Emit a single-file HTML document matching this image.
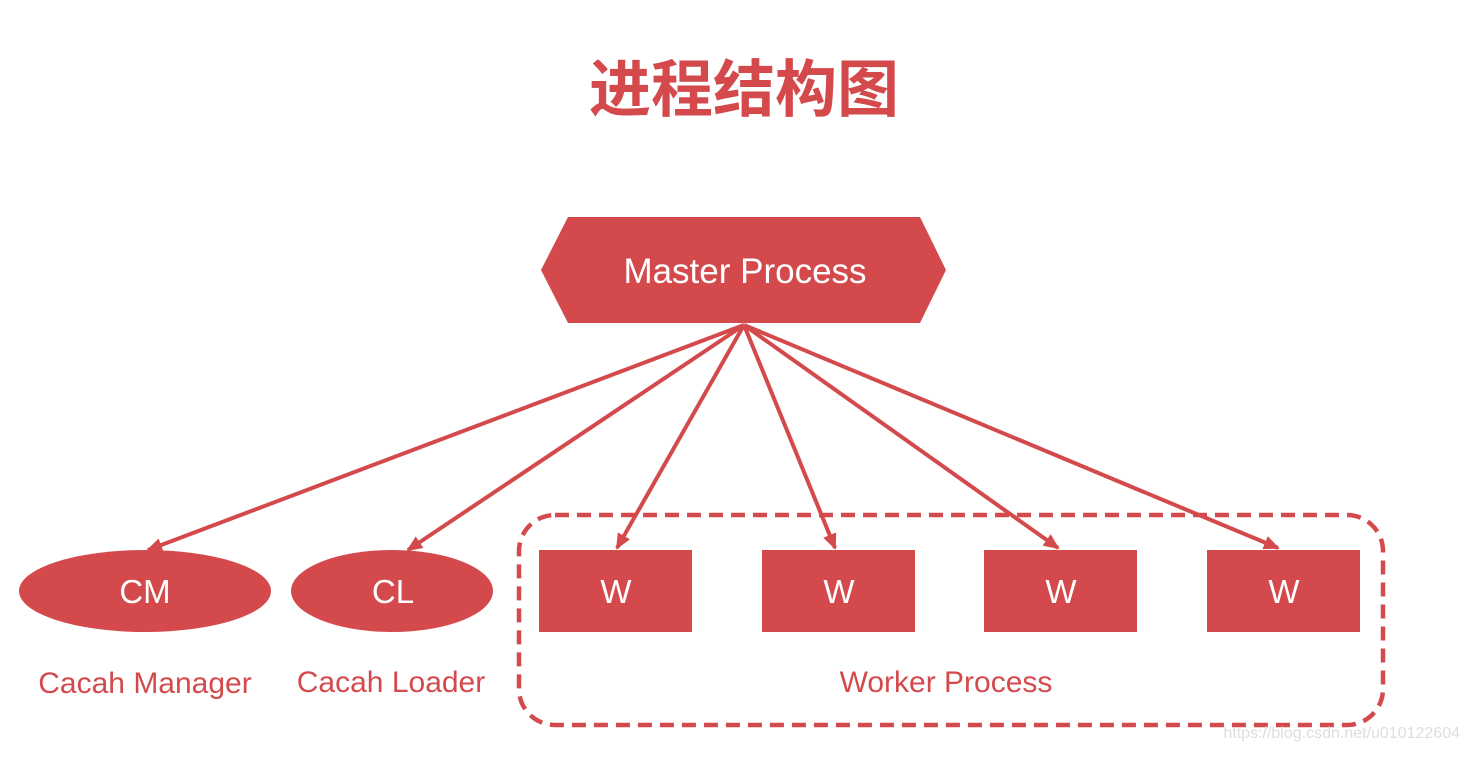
<!DOCTYPE html>
<html><head><meta charset="utf-8"><style>
body{margin:0;background:#fff;}
</style></head><body>
<svg width="1466" height="752" xmlns="http://www.w3.org/2000/svg">
<defs>
<marker id="b" markerWidth="16" markerHeight="14" refX="14" refY="7" orient="auto" markerUnits="userSpaceOnUse"><path d="M0,0 L16,7 L0,14 z" fill="#d44a4c"/></marker></defs>
<text x="744" y="111" text-anchor="middle" font-family="Liberation Sans, Noto Sans CJK SC, sans-serif" font-size="62" font-weight="bold" fill="#d44a4c">进程结构图</text>
<polygon points="541,270 568,217 920,217 946,270 920,323 568,323" fill="#d44a4c"/>
<text x="745" y="283" text-anchor="middle" font-family="Liberation Sans, sans-serif" font-size="35" fill="#fff">Master Process</text>
<g stroke="#d44a4c" stroke-width="4" marker-end="url(#b)">
<line x1="744" y1="325" x2="148" y2="550"/>
<line x1="744" y1="325" x2="408" y2="550"/>
<line x1="744" y1="325" x2="617" y2="548"/>
<line x1="744" y1="325" x2="835" y2="548"/>
<line x1="744" y1="325" x2="1058" y2="548"/>
<line x1="744" y1="325" x2="1278" y2="548"/>
</g>
<rect x="519" y="515" width="864" height="210" rx="36" fill="none" stroke="#d44a4c" stroke-width="4.5" stroke-dasharray="14,8"/>
<ellipse cx="145" cy="591" rx="126" ry="41" fill="#d44a4c"/>
<ellipse cx="392" cy="591" rx="101" ry="41" fill="#d44a4c"/>
<g fill="#d44a4c">
<rect x="539" y="550" width="153" height="82"/>
<rect x="762" y="550" width="153" height="82"/>
<rect x="984" y="550" width="153" height="82"/>
<rect x="1207" y="550" width="153" height="82"/>
</g>
<g font-family="Liberation Sans, sans-serif" font-size="33" fill="#fff" text-anchor="middle">
<text x="145" y="603">CM</text><text x="393" y="603">CL</text>
<text x="616" y="603">W</text><text x="839" y="603">W</text><text x="1061" y="603">W</text><text x="1284" y="603">W</text>
</g>
<g font-family="Liberation Sans, sans-serif" font-size="30" fill="#d44a4c" text-anchor="middle">
<text x="145" y="693">Cacah Manager</text>
<text x="391" y="692">Cacah Loader</text>
<text x="946" y="692">Worker Process</text>
</g>
<text x="1460" y="738" text-anchor="end" font-family="Liberation Sans, sans-serif" font-size="16" fill="#ddd">https://blog.csdn.net/u010122604</text>
</svg>
</body></html>
